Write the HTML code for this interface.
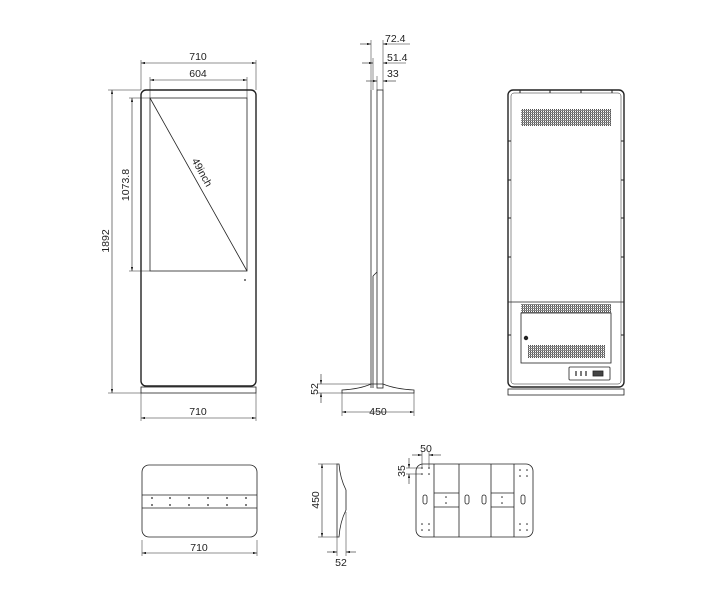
<!DOCTYPE html>
<html><head><meta charset="utf-8"><style>
html,body{margin:0;padding:0;background:#fff}
svg{display:block}
text{font-family:"Liberation Sans",sans-serif;font-size:10.5px;fill:#222}
</style></head><body>
<svg width="726" height="600" viewBox="0 0 726 600" xmlns="http://www.w3.org/2000/svg">
<defs>
<marker id="a" viewBox="0 0 10 6" refX="10" refY="3" markerWidth="8" markerHeight="4" orient="auto-start-reverse"><path d="M0,0L10,3L0,6z" fill="#222"/></marker>
<pattern id="v" width="2" height="2" patternUnits="userSpaceOnUse"><rect width="1" height="2" fill="#555"/><rect width="2" height="1" fill="#888"/></pattern>
</defs>
<g stroke="#222" fill="none" stroke-width="0.8">
<!-- Front view -->
<rect x="141" y="90" width="115" height="296" rx="5" stroke-width="1.4"/>
<rect x="141" y="387" width="115" height="6"/>
<rect x="150" y="98" width="97" height="173"/>
<line x1="150" y1="98" x2="247" y2="271"/>
<line x1="141" y1="60" x2="141" y2="90" stroke-width="0.5"/>
<line x1="256" y1="60" x2="256" y2="90" stroke-width="0.5"/>
<line x1="141" y1="63" x2="256" y2="63" marker-start="url(#a)" marker-end="url(#a)" stroke-width="0.6"/>
<line x1="150" y1="77" x2="150" y2="98" stroke-width="0.5"/>
<line x1="247" y1="77" x2="247" y2="98" stroke-width="0.5"/>
<line x1="150" y1="80" x2="247" y2="80" marker-start="url(#a)" marker-end="url(#a)" stroke-width="0.6"/>
<line x1="108" y1="90" x2="141" y2="90" stroke-width="0.5"/>
<line x1="108" y1="393" x2="141" y2="393" stroke-width="0.5"/>
<line x1="112" y1="90" x2="112" y2="393" marker-start="url(#a)" marker-end="url(#a)" stroke-width="0.6"/>
<line x1="129" y1="98" x2="150" y2="98" stroke-width="0.5"/>
<line x1="129" y1="271" x2="150" y2="271" stroke-width="0.5"/>
<line x1="132" y1="98" x2="132" y2="271" marker-start="url(#a)" marker-end="url(#a)" stroke-width="0.6"/>
<line x1="141" y1="393" x2="141" y2="421" stroke-width="0.5"/>
<line x1="256" y1="393" x2="256" y2="421" stroke-width="0.5"/>
<line x1="141" y1="418" x2="256" y2="418" marker-start="url(#a)" marker-end="url(#a)" stroke-width="0.6"/>
<!-- Side view -->
<line x1="371" y1="90" x2="371" y2="388"/>
<line x1="373" y1="276" x2="373" y2="388"/>
<line x1="373" y1="276" x2="377" y2="272"/>
<rect x="377" y="90" width="6" height="298"/>
<path d="M342,393 L414,393 L414,390 Q395,389 383,384 L371,384 Q360,389 342,390 Z"/>
<line x1="371" y1="40" x2="371" y2="90" stroke-width="0.5"/>
<line x1="383" y1="40" x2="383" y2="90" stroke-width="0.5"/>
<line x1="373" y1="58" x2="373" y2="90" stroke-width="0.5"/>
<line x1="377" y1="76" x2="377" y2="90" stroke-width="0.5"/>
<line x1="360" y1="44" x2="371" y2="44" marker-end="url(#a)" stroke-width="0.6"/>
<line x1="383" y1="44" x2="410" y2="44" marker-start="url(#a)" stroke-width="0.6"/>
<line x1="362" y1="63" x2="373" y2="63" marker-end="url(#a)" stroke-width="0.6"/>
<line x1="383" y1="63" x2="406" y2="63" marker-start="url(#a)" stroke-width="0.6"/>
<line x1="366" y1="81" x2="377" y2="81" marker-end="url(#a)" stroke-width="0.6"/>
<line x1="383" y1="81" x2="396" y2="81" marker-start="url(#a)" stroke-width="0.6"/>
<line x1="317" y1="384" x2="371" y2="384" stroke-width="0.5"/>
<line x1="317" y1="393" x2="342" y2="393" stroke-width="0.5"/>
<line x1="321" y1="374" x2="321" y2="384" marker-end="url(#a)" stroke-width="0.6"/>
<line x1="321" y1="403" x2="321" y2="393" marker-end="url(#a)" stroke-width="0.6"/>
<line x1="342" y1="393" x2="342" y2="416" stroke-width="0.5"/>
<line x1="414" y1="393" x2="414" y2="416" stroke-width="0.5"/>
<line x1="342" y1="412" x2="414" y2="412" marker-start="url(#a)" marker-end="url(#a)" stroke-width="0.6"/>
<!-- Back view -->
<rect x="508" y="90" width="116" height="297" rx="5" stroke-width="1.4"/>
<rect x="511" y="93" width="110" height="291" rx="3" stroke-width="0.5"/>
<rect x="508" y="389" width="116" height="6"/>
<line x1="508" y1="302" x2="624" y2="302"/>
<g stroke-width="1">
<line x1="508" y1="141" x2="511" y2="141"/><line x1="508" y1="180" x2="511" y2="180"/><line x1="508" y1="218" x2="511" y2="218"/><line x1="508" y1="257" x2="511" y2="257"/><line x1="508" y1="335" x2="511" y2="335"/>
<line x1="621" y1="141" x2="624" y2="141"/><line x1="621" y1="180" x2="624" y2="180"/><line x1="621" y1="218" x2="624" y2="218"/><line x1="621" y1="257" x2="624" y2="257"/><line x1="621" y1="335" x2="624" y2="335"/>
<line x1="520" y1="90" x2="520" y2="93"/><line x1="550" y1="90" x2="550" y2="93"/><line x1="581" y1="90" x2="581" y2="93"/><line x1="612" y1="90" x2="612" y2="93"/>
</g>
<rect x="521" y="109" width="90" height="17" fill="url(#v)" stroke="none"/>
<rect x="521" y="304" width="90" height="9" fill="url(#v)" stroke="none"/>
<rect x="521" y="313" width="90" height="50"/>
<rect x="528" y="345" width="77" height="13" fill="url(#v)" stroke="none"/>
<circle cx="526" cy="338" r="1.8" fill="#222"/>
<rect x="569" y="367" width="41" height="13" rx="1"/>
<line x1="576" y1="371" x2="576" y2="376" stroke-width="1.2"/>
<line x1="581" y1="371" x2="581" y2="376" stroke-width="1.2"/>
<line x1="586" y1="371" x2="586" y2="376" stroke-width="1.2"/>
<rect x="593" y="371" width="10" height="5" fill="#444"/>
<!-- Bottom view 1 -->
<rect x="142" y="465" width="115" height="72" rx="7"/>
<line x1="142" y1="495" x2="257" y2="495"/>
<line x1="142" y1="508" x2="257" y2="508"/>
<line x1="142" y1="540" x2="142" y2="556" stroke-width="0.5"/>
<line x1="257" y1="540" x2="257" y2="556" stroke-width="0.5"/>
<line x1="142" y1="553" x2="257" y2="553" marker-start="url(#a)" marker-end="url(#a)" stroke-width="0.6"/>
<!-- Side profile -->
<path d="M337,464 L339,464 Q340,478 346,490 L346,510 Q340,522 339,537 L337,537 Z"/>
<line x1="318" y1="464" x2="337" y2="464" stroke-width="0.5"/>
<line x1="318" y1="537" x2="337" y2="537" stroke-width="0.5"/>
<line x1="322" y1="464" x2="322" y2="537" marker-start="url(#a)" marker-end="url(#a)" stroke-width="0.6"/>
<line x1="337" y1="537" x2="337" y2="556" stroke-width="0.5"/>
<line x1="346" y1="512" x2="346" y2="556" stroke-width="0.5"/>
<line x1="327" y1="552" x2="337" y2="552" marker-end="url(#a)" stroke-width="0.6"/>
<line x1="356" y1="552" x2="346" y2="552" marker-end="url(#a)" stroke-width="0.6"/>
<!-- Base plate -->
<rect x="416" y="464" width="117" height="73" rx="7"/>
<line x1="434" y1="464" x2="434" y2="537"/>
<line x1="459" y1="464" x2="459" y2="537"/>
<line x1="491" y1="464" x2="491" y2="537"/>
<line x1="514" y1="464" x2="514" y2="537"/>
<line x1="434" y1="493" x2="459" y2="493"/>
<line x1="434" y1="507" x2="459" y2="507"/>
<line x1="491" y1="493" x2="514" y2="493"/>
<line x1="491" y1="507" x2="514" y2="507"/>
<rect x="423" y="495" width="4" height="9" rx="2"/>
<rect x="465" y="495" width="4" height="9" rx="2"/>
<rect x="482" y="495" width="4" height="9" rx="2"/>
<rect x="521" y="495" width="4" height="9" rx="2"/>
<line x1="422" y1="452" x2="422" y2="468" stroke-width="0.5"/>
<line x1="429" y1="452" x2="429" y2="468" stroke-width="0.5"/>
<line x1="412" y1="455" x2="422" y2="455" marker-end="url(#a)" stroke-width="0.6"/>
<line x1="441" y1="455" x2="429" y2="455" marker-end="url(#a)" stroke-width="0.6"/>
<line x1="406" y1="468" x2="422" y2="468" stroke-width="0.5"/>
<line x1="406" y1="474" x2="422" y2="474" stroke-width="0.5"/>
<line x1="409" y1="458" x2="409" y2="468" marker-end="url(#a)" stroke-width="0.6"/>
<line x1="409" y1="484" x2="409" y2="474" marker-end="url(#a)" stroke-width="0.6"/>
</g>
<g fill="#222">
<circle cx="245" cy="280" r="0.9"/>
<g>
<circle cx="152" cy="498" r="0.9"/><circle cx="152" cy="505" r="0.9"/>
<circle cx="170" cy="498" r="0.9"/><circle cx="170" cy="505" r="0.9"/>
<circle cx="189" cy="498" r="0.9"/><circle cx="189" cy="505" r="0.9"/>
<circle cx="208" cy="498" r="0.9"/><circle cx="208" cy="505" r="0.9"/>
<circle cx="227" cy="498" r="0.9"/><circle cx="227" cy="505" r="0.9"/>
<circle cx="246" cy="498" r="0.9"/><circle cx="246" cy="505" r="0.9"/>
</g>
<g>
<circle cx="422" cy="468" r="0.8"/><circle cx="429" cy="468" r="0.8"/><circle cx="422" cy="474" r="0.8"/><circle cx="429" cy="474" r="0.8"/>
<circle cx="422" cy="524" r="0.8"/><circle cx="429" cy="524" r="0.8"/><circle cx="422" cy="530" r="0.8"/><circle cx="429" cy="530" r="0.8"/>
<circle cx="520" cy="470" r="0.8"/><circle cx="527" cy="470" r="0.8"/><circle cx="520" cy="476" r="0.8"/><circle cx="527" cy="476" r="0.8"/>
<circle cx="520" cy="524" r="0.8"/><circle cx="527" cy="524" r="0.8"/><circle cx="520" cy="530" r="0.8"/><circle cx="527" cy="530" r="0.8"/>
<circle cx="446" cy="497" r="0.8"/><circle cx="446" cy="503" r="0.8"/>
<circle cx="502" cy="497" r="0.8"/><circle cx="502" cy="503" r="0.8"/>
</g>
</g>
<text x="198" y="60" text-anchor="middle">710</text>
<text x="198" y="77" text-anchor="middle">604</text>
<text x="198" y="415" text-anchor="middle">710</text>
<text transform="translate(109,241) rotate(-90)" text-anchor="middle">1892</text>
<text transform="translate(129,185) rotate(-90)" text-anchor="middle">1073.8</text>
<text transform="translate(199,174) rotate(61)" text-anchor="middle">49inch</text>
<text x="385" y="42">72.4</text>
<text x="387" y="61">51.4</text>
<text x="387" y="77">33</text>
<text transform="translate(318,389) rotate(-90)" text-anchor="middle">52</text>
<text x="378" y="415" text-anchor="middle">450</text>
<text x="199" y="551" text-anchor="middle">710</text>
<text transform="translate(319,500) rotate(-90)" text-anchor="middle">450</text>
<text x="341" y="566" text-anchor="middle">52</text>
<text x="426" y="452" text-anchor="middle">50</text>
<text transform="translate(405,471) rotate(-90)" text-anchor="middle">35</text>
</svg>
</body></html>
